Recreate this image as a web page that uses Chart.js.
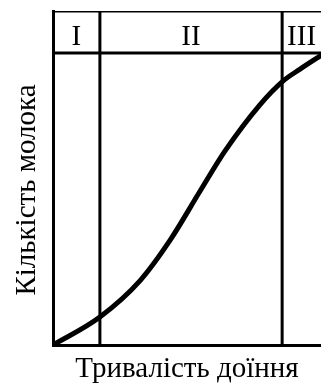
<!DOCTYPE html>
<html>
<head>
<meta charset="utf-8">
<script src="https://cdn.jsdelivr.net/npm/chart.js@4"></script>
<style>
  html, body { margin: 0; padding: 0; background: #fff; }
  #wrap { width: 321px; height: 385px; }
</style>
</head>
<body>
<div id="wrap"><canvas id="milkChart"></canvas></div>
<script>
// milk yield curve (relative units)
const curveX = [0, 17.5, 32.5, 43.7, 54.9, 64.2, 77.2, 85.8, 92.2, 100];
const curveY = [0, 8.4, 19.3, 31.4, 46.1, 58.1, 71.9, 79.0, 82.6, 86.7];

// phase boundaries and header row
const phaseBounds = [17.5, 85.5];
const phaseLabels = ["I", "II", "III"];
const headerLevel = 87.4;
const topLevel = 100;

const xTitle = "Тривалість доїння";
const yTitle = "Кількість молока";

const FONT = "'Liberation Serif', 'Times New Roman', serif";

function hLine(y) {
    return {
        data: [{ x: 0, y: y }, { x: 100, y: y }],
        borderColor: "#000",
        borderWidth: 3,
        pointRadius: 0
    };
}

function vLine(x) {
    return {
        data: [{ x: x, y: 0 }, { x: x, y: topLevel }],
        borderColor: "#000",
        borderWidth: 3,
        pointRadius: 0
    };
}

const labelsPlugin = {
    id: "phaseLabels",
    afterDraw(chart) {
        const { ctx, chartArea, scales } = chart;
        const xs = scales.x, ys = scales.y;
        const edges = [xs.min].concat(phaseBounds, [xs.max]);
        ctx.save();
        ctx.fillStyle = "#000";
        ctx.font = "29px " + FONT;
        ctx.textAlign = "center";
        ctx.textBaseline = "alphabetic";
        const base = ys.getPixelForValue(headerLevel) - 8;
        phaseLabels.forEach((lab, i) => {
            const cx = (xs.getPixelForValue(edges[i]) + xs.getPixelForValue(edges[i + 1])) / 2;
            ctx.fillText(lab, cx, base);
        });
        // y axis title
        ctx.translate(35, (chartArea.top + chartArea.bottom) / 2 + 12);
        ctx.rotate(-Math.PI / 2);
        ctx.fillText(yTitle, 0, 0);
        ctx.restore();
    }
};

const datasets = [
    {
        data: curveX.map((x, i) => ({ x: x, y: curveY[i] })),
        borderColor: "#000",
        borderWidth: 5,
        borderCapStyle: "round",
        pointRadius: 0,
        cubicInterpolationMode: "monotone"
    },
    hLine(topLevel),
    hLine(headerLevel)
].concat(phaseBounds.map(vLine));

new Chart(document.getElementById("milkChart"), {
    type: "line",
    data: { datasets: datasets },
    options: {
        responsive: true,
        maintainAspectRatio: false,
        animation: false,
        layout: { padding: { top: 11, right: 0, left: 0, bottom: 0 } },
        plugins: {
            legend: { display: false },
            tooltip: { enabled: false }
        },
        scales: {
            x: {
                type: "linear",
                min: 0,
                max: 100,
                ticks: { display: false },
                grid: { display: false },
                border: { display: true, color: "#000", width: 3 },
                title: {
                    display: true,
                    text: xTitle,
                    color: "#000",
                    font: { family: FONT, size: 29, lineHeight: 1 },
                    padding: { top: 0, bottom: 1 }
                },
                afterFit(s) { s.height = 40; }
            },
            y: {
                min: 0,
                max: 100,
                ticks: { display: false },
                grid: { display: false },
                border: { display: true, color: "#000", width: 3 },
                afterFit(s) { s.width = 53; }
            }
        }
    },
    plugins: [labelsPlugin]
});
</script>
</body>
</html>
